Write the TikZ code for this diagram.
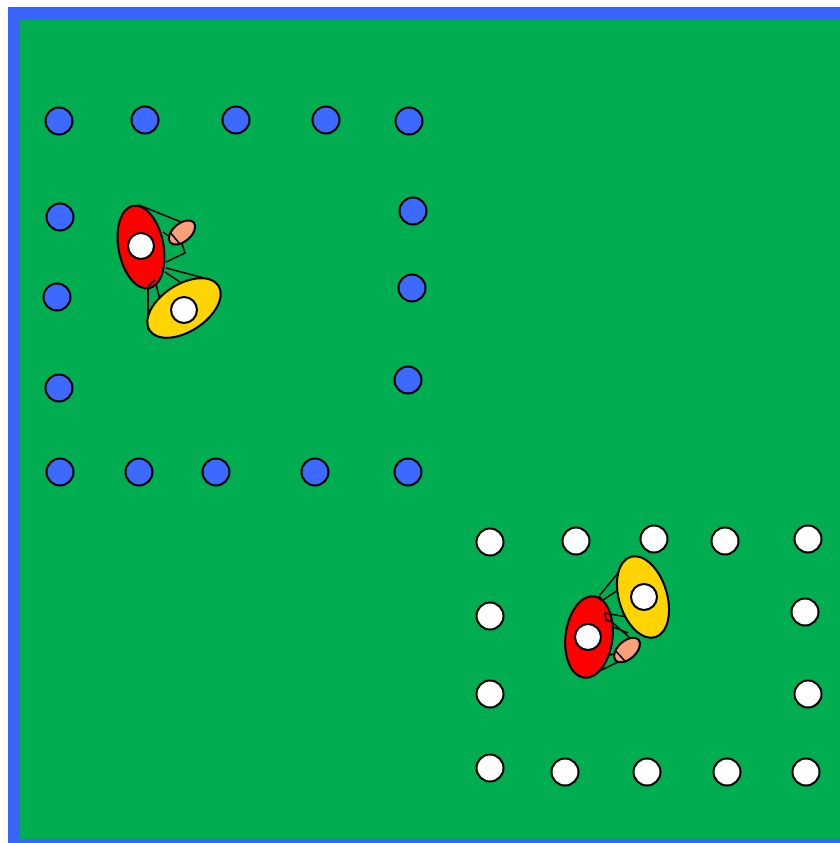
\documentclass[tikz,border=0pt]{standalone}
\usetikzlibrary{positioning}
\definecolor{fieldgreen}{RGB}{0,173,80}
\definecolor{edgeblue}{RGB}{55,100,250}
\definecolor{dotblue}{RGB}{60,105,255}
\definecolor{shirtyellow}{RGB}{255,212,0}
\definecolor{ballorange}{RGB}{250,160,120}
\tikzset{
  bluedot/.style={circle, draw, line width=2pt, fill=dotblue, minimum size=27pt, inner sep=0pt},
  whitedot/.style={bluedot, fill=white},
  head/.style={circle, draw, line width=2pt, fill=white, minimum size=26pt, inner sep=0pt},
  limb/.style={line width=1.5pt},
  body/.style={draw, line width=2pt}
}
\begin{document}
\begin{tikzpicture}[x=1pt, y=-1pt]
  \useasboundingbox (0,0) rectangle (840,843);
  % field
  \fill[edgeblue] (8,7) rectangle (840,843);
  \fill[fieldgreen] (20,20) rectangle (840,839);

  % blue square
  \node[bluedot] (b1) at (59,121) {};
  \node[bluedot] (b2) at (145,120) {};
  \node[bluedot] (b3) at (236,120) {};
  \node[bluedot] (b4) at (326,120) {};
  \node[bluedot] (b5) at (409,121) {};
  \node[bluedot] (b6) at (60,217) {};
  \node[bluedot] (b7) at (57,297) {};
  \node[bluedot] (b8) at (59,388) {};
  \node[bluedot] (b9) at (413,211) {};
  \node[bluedot] (b10) at (412,288) {};
  \node[bluedot] (b11) at (408,380) {};
  \node[bluedot] (b12) at (60,472) {};
  \node[bluedot] (b13) at (139,472) {};
  \node[bluedot] (b14) at (216,472) {};
  \node[bluedot] (b15) at (315,472) {};
  \node[bluedot] (b16) at (408,472) {};

  % white square
  \node[whitedot] (w1) at (490,542) {};
  \node[whitedot] (w2) at (576,541) {};
  \node[whitedot] (w3) at (654,539) {};
  \node[whitedot] (w4) at (725,541) {};
  \node[whitedot] (w5) at (808,539) {};
  \node[whitedot] (w6) at (490,616) {};
  \node[whitedot] (w7) at (490,694) {};
  \node[whitedot] (w8) at (805,612) {};
  \node[whitedot] (w9) at (808,694) {};
  \node[whitedot] (w10) at (490,768) {};
  \node[whitedot] (w11) at (565,772) {};
  \node[whitedot] (w12) at (647,772) {};
  \node[whitedot] (w13) at (727,772) {};
  \node[whitedot] (w14) at (806,772) {};

  % players, top left
  \draw[limb] (139,205) -- (181,222);
  \draw[limb] (163,232) -- (170,237);
  \draw[limb] (182,244) -- (185,253) -- (166,262);
  \draw[limb] (166,268) -- (208,279);
  \draw[limb] (165,272) -- (180,282);
  \draw[limb] (148,330) -- (148,285);
  \draw[limb] (155,280) -- (160,300);
  \filldraw[body, fill=red, rotate around={11:(141,247)}] (141,247) ellipse (22.5 and 42);
  \filldraw[body, fill=shirtyellow, rotate around={33:(184,308)}] (184,308) ellipse (41 and 23.5);
  \begin{scope}[shift={(182,232.5)}, rotate=40]
    \filldraw[body, fill=ballorange] (0,0) ellipse (15.5 and 9);
    \draw[limb] (-9,-7.5) -- (-9,7.5);
  \end{scope}
  \draw[limb] (148,286) -- (155,280);
  \node[head] (redhead1) at (141,246) {};
  \node[head] (yellowhead1) at (184,310) {};

  % players, bottom right
  \draw[limb] (600,595) -- (622,568);
  \draw[limb] (603,600) -- (618,590);
  \draw[limb] (610,614) -- (633,618);
  \draw[limb] (612,622) -- (630,638);
  \draw[limb] (613,627) -- (628,633);
  \draw[limb] (610,655) -- (617,653);
  \draw[limb] (587,677) -- (618,662);
  \filldraw[body, fill=red, rotate around={-7:(589,637)}] (589,637) ellipse (23.5 and 41);
  \filldraw[body, fill=shirtyellow, rotate around={17:(643,597)}] (643,597) ellipse (24 and 42);
  \begin{scope}[shift={(627,650)}, rotate=42]
    \filldraw[body, fill=ballorange] (0,0) ellipse (15.5 and 9);
    \draw[limb] (-9,-7.5) -- (-9,7.5);
  \end{scope}
  \draw[limb] (605,613) -- (610,614) -- (612,622) -- (606,620) -- cycle;
  \draw[limb] (599,596) -- (603,601);
  \node[head] (redhead2) at (588,637) {};
  \node[head] (yellowhead2) at (644,597) {};
\end{tikzpicture}
\end{document}
